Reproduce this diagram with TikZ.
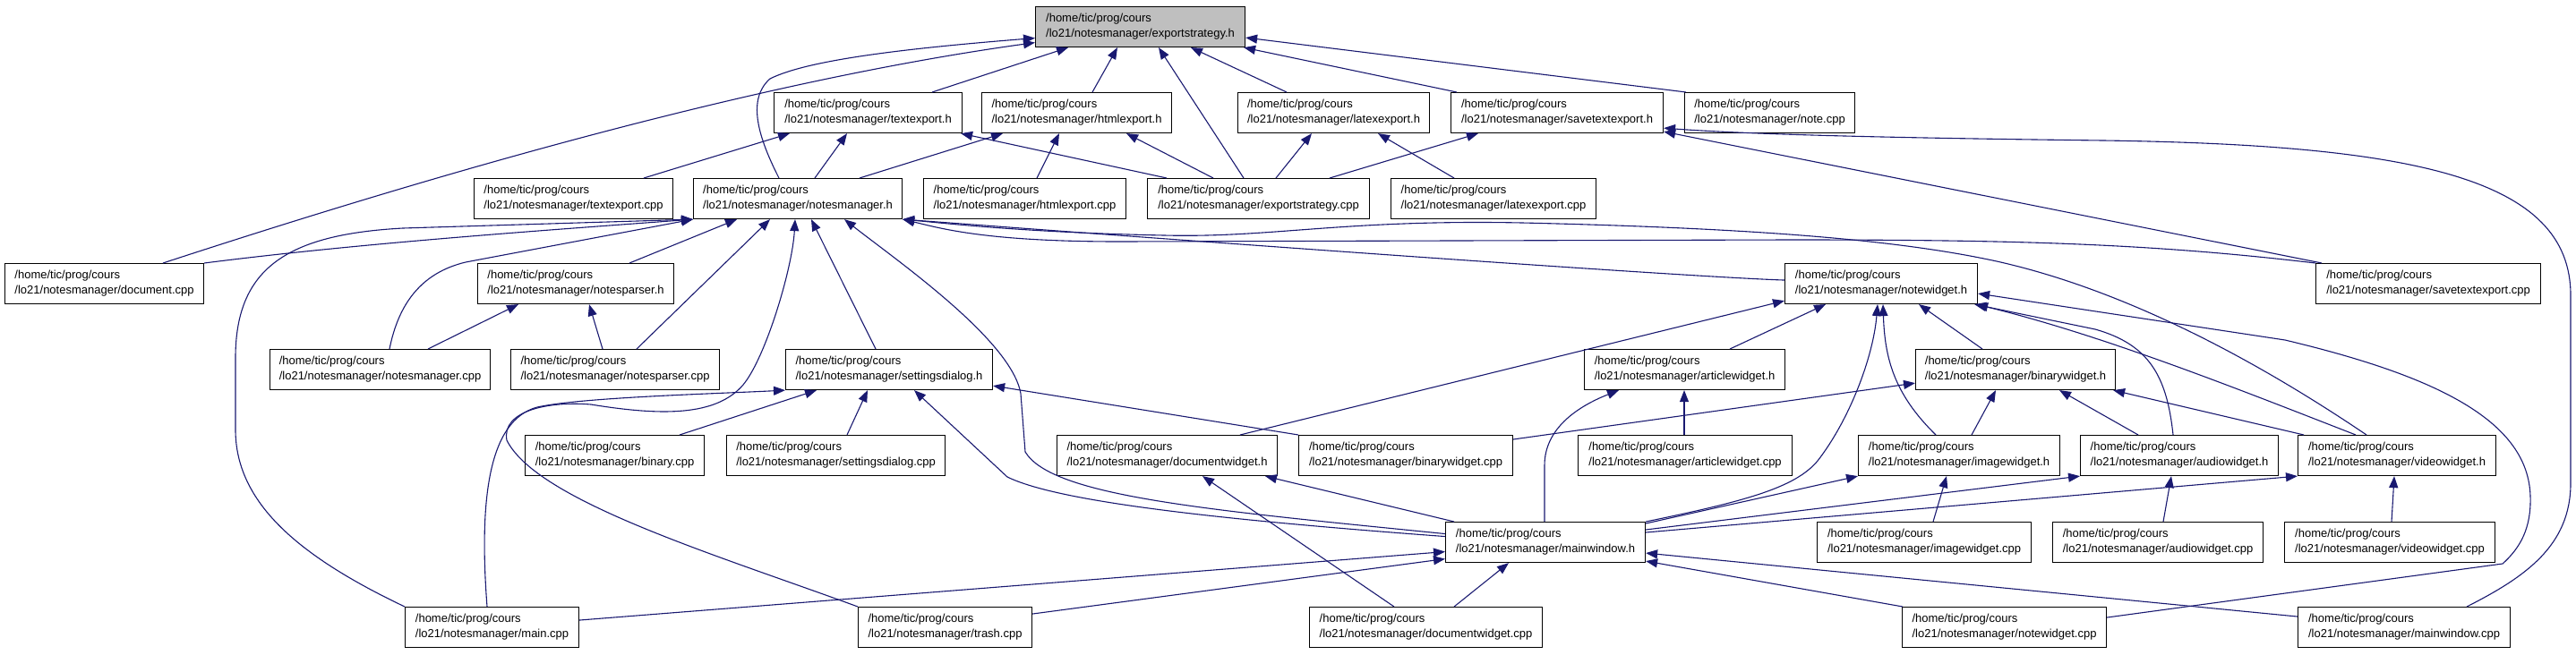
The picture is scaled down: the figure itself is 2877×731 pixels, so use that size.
\documentclass[tikz,border=0pt]{standalone}
\usepackage{fontspec}
\setmainfont{Liberation Sans}
\usetikzlibrary{arrows.meta}
\definecolor{edgec}{HTML}{191970}
\definecolor{selfill}{HTML}{BFBFBF}
\tikzset{
 fbox/.style={draw=black, line width=1.1pt, fill=white, anchor=north west, minimum height=45pt, inner xsep=10pt, inner ysep=0pt, align=left, font=\fontsize{13}{17}\selectfont},
 dep/.style={draw=edgec, line width=1.1pt, -{Triangle[length=13pt,width=10pt]}}
}
\newcommand{\fnode}[5][]{\node[fbox,minimum width=#4pt,#1] (#2) at (#3) {/home/tic/prog/cours\\/lo21/notesmanager/#5};}
\begin{document}
\begin{tikzpicture}[x=1pt,y=-1pt]
\useasboundingbox (0,0) rectangle (2877,731);
% row 1
\fnode[fill=selfill]{E}{1156,7}{234}{exportstrategy.h}
% row 2
\fnode{txh}{864,103}{210}{textexport.h}
\fnode{hth}{1096,103}{212}{htmlexport.h}
\fnode{lxh}{1382,103}{214}{latexexport.h}
\fnode{svh}{1620,103}{237}{savetextexport.h}
\fnode{note}{1881,103}{190}{note.cpp}
% row 3
\fnode{txc}{529,199}{222}{textexport.cpp}
\fnode{N}{774,199}{233}{notesmanager.h}
\fnode{htc}{1031,199}{226}{htmlexport.cpp}
\fnode{esc}{1281,199}{248}{exportstrategy.cpp}
\fnode{lxc}{1553,199}{229}{latexexport.cpp}
% row 4
\fnode{doc}{5,294}{222}{document.cpp}
\fnode{nph}{533,294}{219}{notesparser.h}
\fnode{W}{1993,294}{215}{notewidget.h}
\fnode{svc}{2586,294}{251}{savetextexport.cpp}
% row 5
\fnode{nmc}{301,390}{246}{notesmanager.cpp}
\fnode{npc}{570,390}{233}{notesparser.cpp}
\fnode{S}{877,390}{231}{settingsdialog.h}
\fnode{A}{1769,390}{224}{articlewidget.h}
\fnode{B}{2139,390}{223}{binarywidget.h}
% row 6
\fnode{bin}{586,486}{200}{binary.cpp}
\fnode{sdc}{811,486}{244}{settingsdialog.cpp}
\fnode{D}{1180,486}{246}{documentwidget.h}
\fnode{bwc}{1450,486}{239}{binarywidget.cpp}
\fnode{awc}{1762,486}{239}{articlewidget.cpp}
\fnode{I}{2075,486}{225}{imagewidget.h}
\fnode{Au}{2323,486}{221}{audiowidget.h}
\fnode{V}{2566,486}{221}{videowidget.h}
% row 7
\fnode{M}{1614,583}{223}{mainwindow.h}
\fnode{iwc}{2029,583}{239}{imagewidget.cpp}
\fnode{auc}{2292,583}{235}{audiowidget.cpp}
\fnode{vwc}{2551,583}{235}{videowidget.cpp}
% row 8
\fnode{main}{452,678}{194}{main.cpp}
\fnode{trash}{958,678}{194}{trash.cpp}
\fnode{dwc}{1462,678}{260}{documentwidget.cpp}
\fnode{nwc}{2124,678}{228}{notewidget.cpp}
\fnode{mwc}{2566,678}{237}{mainwindow.cpp}

% ---- edges to exportstrategy.h
\draw[dep] (1041,0 |- txh.north) -- (1193,0 |- E.south);
\draw[dep] (1220,0 |- hth.north) -- (1248,0 |- E.south);
\draw[dep] (1389,0 |- esc.north) -- (1294,0 |- E.south);
\draw[dep] (1437,0 |- lxh.north) -- (1330,0 |- E.south);
\draw[dep] (1627,0 |- svh.north) -- ([xshift=-2pt]E.south east);
\draw[dep] ([xshift=2pt]note.north west) -- ([yshift=-12pt]E.east);
\draw[dep] (870,0 |- N.north) .. controls (845,150) and (835,110) .. (860,88) .. controls (900,68) and (1000,55) .. ([yshift=-12.5pt]E.west);
\draw[dep] (182,0 |- doc.north) .. controls (500,190) and (850,90) .. ([yshift=-17.5pt]E.west);
% ---- textexport.h
\draw[dep] (719,0 |- txc.north) -- (882,0 |- txh.south);
\draw[dep] (910,0 |- N.north) -- (946,0 |- txh.south);
\draw[dep] (1303,0 |- esc.north) -- ([xshift=-2pt]txh.south east);
% ---- htmlexport.h
\draw[dep] (960,0 |- N.north) -- (1120,0 |- hth.south);
\draw[dep] (1158,0 |- htc.north) -- (1183,0 |- hth.south);
\draw[dep] (1355,0 |- esc.north) -- (1258,0 |- hth.south);
% ---- latexexport.h
\draw[dep] (1425,0 |- esc.north) -- (1465,0 |- lxh.south);
\draw[dep] (1624,0 |- lxc.north) -- (1539,0 |- lxh.south);
% ---- savetextexport.h
\draw[dep] (1485,0 |- esc.north) -- (1651,0 |- svh.south);
\draw[dep] (2593,0 |- svc.north) -- ([yshift=2pt]svh.south east);
\draw[dep] (2755,0 |- mwc.north) .. controls (2820,645) and (2871,610) .. (2871,540) -- (2871,330) .. controls (2871,200) and (2700,162) .. (2349,157) .. controls (2100,154) and (1950,150) .. ([yshift=6pt]svh.south east);
% ---- notesmanager.h
\draw[dep] (doc.north east) .. controls (400,272) and (600,258) .. (N.south west);
\draw[dep] (main.north west) .. controls (330,620) and (263,560) .. (263,480) -- (263,400) .. controls (263,300) and (320,262) .. (450,255) -- (N.south west);
\draw[dep] (435,0 |- nmc.north) .. controls (445,340) and (470,305) .. (520,293) -- (N.south west);
\draw[dep] (703,0 |- nph.north) -- (823,0 |- N.south);
\draw[dep] (711,0 |- npc.north) -- (860,0 |- N.south);
\draw[dep] (trash.north west) .. controls (800,620) and (600,560) .. (566,492) .. controls (560,460) and (610,448) .. (660,452) .. controls (740,465) and (800,465) .. (830,430) .. controls (855,400) and (885,300) .. (888,0 |- N.south);
\draw[dep] (978,0 |- S.north) -- (906,0 |- N.south);
\draw[dep] ([yshift=9.5pt]M.west) .. controls (1350,570) and (1175,555) .. (1145,505) -- (1140,440) .. controls (1130,380) and (1000,290) .. (943,0 |- N.south);
\draw[dep] (2643,0 |- V.north) .. controls (2560,430) and (2400,330) .. (2230,292) .. controls (2120,268) and (1960,255) .. (1700,249) .. controls (1500,245) and (1420,266) .. (1300,263) .. controls (1150,260) and (1060,250) .. (N.south east);
\draw[dep] (svc.north west) .. controls (2400,272) and (2250,268) .. (2000,268) -- (1250,270) .. controls (1100,270) and (1050,255) .. (N.south east);
\draw[dep] ([yshift=4pt]W.west) .. controls (1900,310) and (1500,282) .. (N.south east);
% ---- notesparser.h
\draw[dep] (478,0 |- nmc.north) -- (579,0 |- nph.south);
\draw[dep] (673,0 |- npc.north) -- (658,0 |- nph.south);
% ---- settingsdialog.h
\draw[dep] (544,0 |- main.north) .. controls (535,560) and (545,470) .. (600,455) .. controls (650,444) and (800,440) .. (S.south west);
\draw[dep] (759,0 |- bin.north) -- (912,0 |- S.south);
\draw[dep] (946,0 |- sdc.north) -- (969,0 |- S.south);
\draw[dep] ([yshift=6.5pt]M.west) .. controls (1350,580) and (1180,560) .. (1125,533) -- (1021,0 |- S.south);
\draw[dep] (1450,0 |- bwc.north) -- ([yshift=5pt]S.south east);
% ---- documentwidget.h
\draw[dep] (1557,0 |- dwc.north) -- (1343,0 |- D.south);
\draw[dep] (1624,0 |- M.north) -- (1413,0 |- D.south);
% ---- mainwindow.h
\draw[dep] ([yshift=8pt]main.east) -- ([yshift=-10.5pt]M.west);
\draw[dep] ([yshift=15pt]trash.east) -- ([yshift=-18.5pt]M.west);
\draw[dep] (1624,0 |- dwc.north) -- (1685,0 |- M.south);
\draw[dep] ([yshift=12pt]mwc.west) -- ([yshift=-12pt]M.east);
\draw[dep] ([xshift=1pt]nwc.north west) -- ([yshift=-21pt]M.east);
% ---- notewidget.h
\draw[dep] (1385,0 |- D.north) -- ([yshift=4pt]W.south west);
\draw[dep] (1932,0 |- A.north) -- (2039,0 |- W.south);
\draw[dep] (M.north east) .. controls (1950,560) and (2005,545) .. (2030,515) .. controls (2065,470) and (2092,400) .. (2097,0 |- W.south);
\draw[dep] (2162,0 |- I.north) .. controls (2115,440) and (2105,400) .. (2103,0 |- W.south);
\draw[dep] (2214,0 |- B.north) -- (2143,0 |- W.south);
\draw[dep] (2427,0 |- Au.north) .. controls (2420,420) and (2400,385) .. (2340,368) -- ([xshift=-4pt]W.south east);
\draw[dep] (2631,0 |- V.north) .. controls (2500,435) and (2350,375) .. ([xshift=-2pt]W.south east);
\draw[dep] ([yshift=11pt]nwc.east) -- (2795,630) .. controls (2815,612) and (2827,590) .. (2826,555) .. controls (2824,470) and (2720,420) .. (2552,380) -- ([yshift=-11pt]W.east);
% ---- articlewidget.h
\draw[dep] (1725,0 |- M.north) -- (1725,520) .. controls (1725,480) and (1760,455) .. (1808,0 |- A.south);
\draw[dep] (1881,0 |- awc.north) -- (1881,0 |- A.south);
% ---- binarywidget.h
\draw[dep] ([yshift=-5pt]bwc.north east) -- ([yshift=8pt]B.south west);
\draw[dep] (2202,0 |- I.north) -- (2229,0 |- B.south);
\draw[dep] (2388,0 |- Au.north) -- (2300,0 |- B.south);
\draw[dep] (2573,0 |- V.north) -- ([xshift=-3pt]B.south east);
% ---- imagewidget.h / audiowidget.h / videowidget.h
\draw[dep] ([yshift=-2pt]M.north east) -- (I.south west);
\draw[dep] ([yshift=-9pt]M.north east) -- (Au.south west);
\draw[dep] ([yshift=-12pt]M.north east) -- (V.south west);
\draw[dep] (2159,0 |- iwc.north) -- (2174,0 |- I.south);
\draw[dep] (2416,0 |- auc.north) -- (2425,0 |- Au.south);
\draw[dep] (2671,0 |- vwc.north) -- (2674,0 |- V.south);
\end{tikzpicture}
\end{document}
